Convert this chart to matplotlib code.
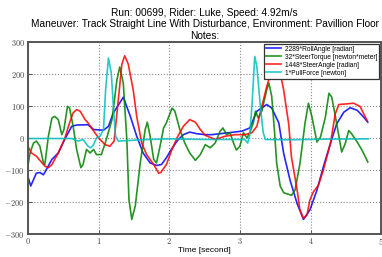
import matplotlib
matplotlib.use("Agg")
import matplotlib.pyplot as plt
from matplotlib.ticker import FuncFormatter

plt.rcParams["mathtext.fontset"] = "cm"

TITLE = ("Run: 00699, Rider: Luke, Speed: 4.92m/s\n"
         "Maneuver: Track Straight Line With Disturbance, Environment: Pavillion Floor\n"
         "Notes:")

# 2289*RollAngle [radian]
roll_t = [0.0, 0.04, 0.12, 0.17, 0.22, 0.34, 0.43, 0.52, 0.62, 0.69, 0.85, 0.93, 1.07, 1.14,
          1.21, 1.30, 1.35, 1.45, 1.54, 1.63, 1.73, 1.82, 1.89, 1.96, 2.03, 2.11, 2.20, 2.29,
          2.39, 2.51, 2.60, 2.84, 3.03, 3.14, 3.24, 3.38, 3.45, 3.55, 3.62, 3.71, 3.81, 3.90,
          3.99, 4.09, 4.18, 4.28, 4.37, 4.47, 4.56, 4.66, 4.75, 4.81]
roll_v = [-120, -150, -110, -108, -115, -67, -47, -5, 36, 40, 41, 26, 24, 36,
          78, 109, 127, 67, 5, -47, -78, -86, -83, -62, -36, -10, 10, 18,
          13, 10, 10, 16, 21, 31, 83, 104, 93, 47, -49, -132, -205, -254,
          -225, -163, -91, -18, 44, 80, 94, 86, 65, 49]

# 32*SteerTorque [newton*meter]
torque_t = [0.0, 0.03, 0.08, 0.12, 0.17, 0.22, 0.24, 0.29, 0.34, 0.38, 0.43, 0.48, 0.51,
            0.56, 0.59, 0.64, 0.69, 0.75, 0.78, 0.83, 0.88, 0.93, 0.97, 1.04, 1.11, 1.19,
            1.26, 1.30, 1.35, 1.40, 1.43, 1.47, 1.52, 1.59, 1.66, 1.69, 1.73, 1.78, 1.82,
            1.87, 1.92, 1.96, 2.04, 2.08, 2.15, 2.22, 2.29, 2.37, 2.44, 2.51, 2.58, 2.65,
            2.72, 2.76, 2.81, 2.86, 2.91, 2.95, 3.00, 3.05, 3.10, 3.14, 3.19, 3.22, 3.26,
            3.31, 3.38, 3.41, 3.45, 3.49, 3.52, 3.57, 3.62, 3.69, 3.73, 3.78, 3.85, 3.92,
            3.97, 4.02, 4.09, 4.14, 4.21, 4.26, 4.30, 4.37, 4.44, 4.49, 4.54, 4.58, 4.66,
            4.73, 4.81]
torque_v = [-88, -47, -16, -10, -26, -78, -83, 5, 62, 67, 57, 10, 26,
            98, 93, 36, -36, -93, -83, -36, -47, -36, -52, -52, -5, 57,
            181, 221, 171, -5, -192, -254, -212, -78, 26, 49, 5, -67, -78,
            -26, 31, 47, 93, 83, 26, -16, -47, -70, -52, -21, -31, -16,
            21, 31, 10, 16, -16, -38, -26, 16, 0, 16, 47, 83, 62,
            83, 150, 171, 130, 20, -78, -150, -171, -176, -179, -163, -80, 44,
            108, 65, -13, 2, 65, 139, 127, 44, -44, -18, 23, 13, -13,
            -39, -75]

# 1448*SteerAngle [radian]
steer_t = [0.0, 0.05, 0.12, 0.24, 0.29, 0.34, 0.43, 0.52, 0.59, 0.64, 0.69, 0.74, 0.81,
           0.85, 0.90, 1.00, 1.09, 1.16, 1.22, 1.28, 1.33, 1.37, 1.42, 1.49, 1.54, 1.61,
           1.68, 1.78, 1.85, 1.88, 1.96, 2.03, 2.11, 2.20, 2.29, 2.37, 2.44, 2.51, 2.65,
           2.79, 2.93, 3.07, 3.17, 3.24, 3.31, 3.38, 3.45, 3.50, 3.56, 3.62, 3.69, 3.73,
           3.81, 3.85, 3.90, 3.95, 3.99, 4.04, 4.11, 4.18, 4.28, 4.35, 4.40, 4.51, 4.61,
           4.70, 4.80]
steer_v = [-26, -47, -57, -88, -93, -83, -47, -3, 47, 78, 88, 83, 57,
           47, 31, 0, -21, -26, -10, 120, 230, 256, 230, 150, 67, -16,
           -52, -83, -110, -108, -83, -41, 0, 36, 57, 49, 26, 8, -5,
           5, 10, 10, 16, 36, 98, 160, 212, 232, 215, 148, 44, -60,
           -163, -225, -251, -240, -194, -168, -148, -101, -18, 75, 104, 106, 108,
           98, 54]

# 1*PullForce [newton]
pull_t = [0.0, 0.3, 0.62, 0.71, 0.78, 0.85, 0.89, 0.93, 0.97, 1.02, 1.07, 1.10, 1.14,
          1.18, 1.21, 1.24, 1.28, 1.6, 2.0, 2.5, 3.0, 3.07, 3.11, 3.14, 3.17, 3.21,
          3.24, 3.29, 3.33, 3.36, 3.7, 4.2, 4.82]
pull_v = [-2, -2, -2, -10, -5, -26, -31, -21, 0, 5, 26, 150, 249,
          202, 98, 5, -10, -6, -3, -5, -5, -5, -16, 10, 98, 254,
          223, 98, 16, -5, -6, -4, -3]

SERIES = [
    (roll_t, roll_v, "#0000ff", "2289*RollAngle [radian]"),
    (torque_t, torque_v, "#008000", "32*SteerTorque [newton*meter]"),
    (steer_t, steer_v, "#ff0000", "1448*SteerAngle [radian]"),
    (pull_t, pull_v, "#00bfbf", "1*PullForce [newton]"),
]


def main():
    fig = plt.figure(figsize=(3.82, 2.57), dpi=100)
    ax = fig.add_axes([0.073, 0.089, 0.925, 0.749])
    for t, v, c, lab in SERIES:
        ax.plot(t, v, color=c, lw=1.2, label=lab, alpha=0.85)

    ax.set_xlim(0, 5)
    ax.set_ylim(-300, 300)
    ax.set_xticks(range(6))
    ax.set_yticks(range(-300, 301, 100))
    fmt = FuncFormatter(lambda v, p: f"${v:g}$")
    ax.xaxis.set_major_formatter(fmt)
    ax.yaxis.set_major_formatter(fmt)
    ax.tick_params(labelsize=6, length=3, width=0.6, colors="#444444", pad=2,
                   direction="in")
    ax.tick_params(axis="x", pad=1.5)
    ax.grid(True, linestyle=":", color="#888888", linewidth=0.8)
    for s in ax.spines.values():
        s.set_linewidth(1.4)
        s.set_color("#555555")

    ax.set_xlabel("Time [second]", fontsize=6, family="Liberation Sans", labelpad=0)
    ax.set_title(TITLE, fontsize=7.3, family="Liberation Sans", linespacing=1.2, pad=2)

    leg = ax.legend(loc="upper right", prop={"family": "Liberation Sans", "size": 4.8},
                    fancybox=False, framealpha=1, edgecolor="#333333",
                    handlelength=2.2, labelspacing=0.15, borderpad=0.3,
                    borderaxespad=0.3, handletextpad=0.6)
    leg.get_frame().set_linewidth(0.9)

    fig.savefig("out.png", dpi=100)


if __name__ == "__main__":
    main()
